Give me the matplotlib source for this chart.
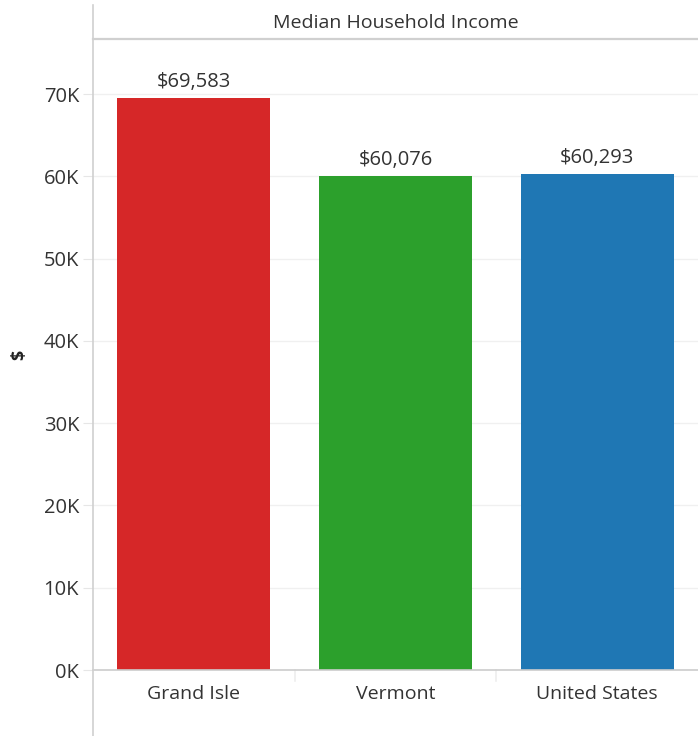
import matplotlib.pyplot as plt
from matplotlib.lines import Line2D

plt.rcParams['font.family'] = ['Open Sans', 'DejaVu Sans']

# data
places = ['Grand Isle', 'Vermont', 'United States']
incomes = [69583, 60076, 60293]
colors = ['#d62728', '#2ca02c', '#1f77b4']
yticks = [0, 10000, 20000, 30000, 40000, 50000, 60000, 70000]
title = 'Median Household Income'

W, H = 698, 736
fig = plt.figure(figsize=(W / 100, H / 100), dpi=100)

left, right, bottom, top = 93, 698, 670, 39
ax = fig.add_axes([left / W, (H - bottom) / H, (right - left) / W, (bottom - top) / H])

x = list(range(len(places)))
ax.bar(x, incomes, width=0.76, color=colors, zorder=2)
for xi, v in zip(x, incomes):
    ax.annotate('${:,}'.format(v), (xi, v), xytext=(0, 4), textcoords='offset points',
                ha='center', va='bottom', fontsize=14.5, color='#333333')

ax.set_xlim(-0.5, len(places) - 0.5)
ax.set_ylim(0, 76700)
ax.set_yticks(yticks)
ax.set_yticklabels(['%dK' % (t // 1000) for t in yticks], fontsize=14.5, color='#333333')
ax.set_xticks(x)
ax.set_xticklabels(places, fontsize=14, color='#333333')
ax.tick_params(axis='y', length=7, color='#e6e6e6', pad=3)
ax.tick_params(axis='x', length=0, pad=11)
ax.grid(axis='y', color='#f0f0f0', linewidth=1, zorder=0)
for s in ['top', 'right', 'left']:
    ax.spines[s].set_visible(False)
ax.spines['bottom'].set_color('#cccccc')
ax.spines['bottom'].set_linewidth(1.2)
ax.set_ylabel('$', fontsize=13, fontweight='bold', color='#222222')
ax.yaxis.set_label_coords((28 - left) / (right - left), 0.5)

# category separators below the axis
for b in [0.5, 1.5]:
    ax.plot([b, b], [0, -0.018], transform=ax.get_xaxis_transform(), color='#eeeeee',
            linewidth=1.2, clip_on=False)

# header band and left rule
fig.add_artist(Line2D([left / W, 1], [(H - top) / H] * 2, color='#d0d0d0', linewidth=1.6))
fig.add_artist(Line2D([left / W] * 2, [0, (H - 5) / H], color='#d0d0d0', linewidth=1.2))
fig.text((left + right) / 2 / W, (H - 23) / H, title, ha='center', va='center',
         fontsize=14, color='#333333')

fig.savefig('out.png', dpi=100)
